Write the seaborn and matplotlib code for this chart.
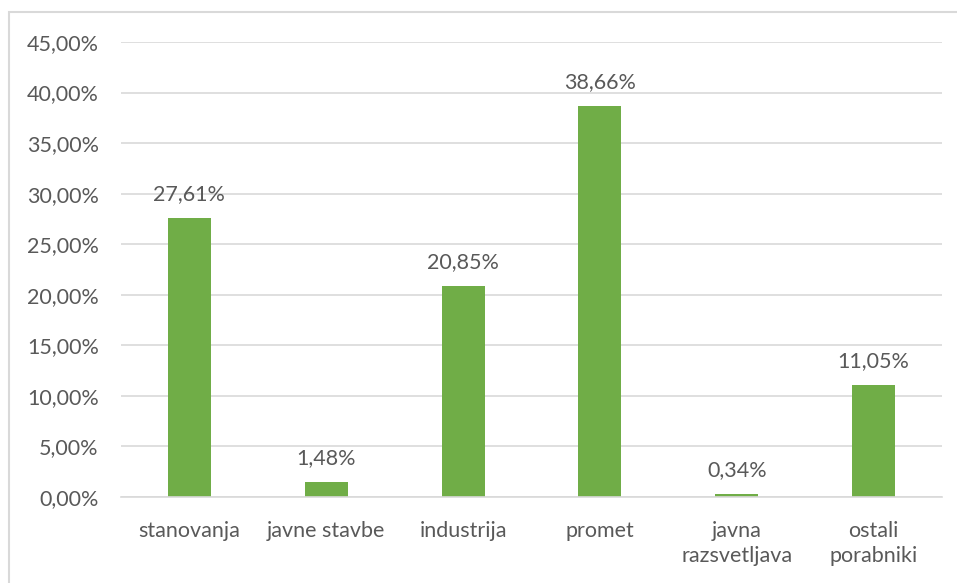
import matplotlib
matplotlib.use("Agg")
import matplotlib.pyplot as plt
import seaborn as sns
import pandas as pd
from matplotlib.patches import Rectangle

categories = ["stanovanja", "javne stavbe", "industrija", "promet", "javna\nrazsvetljava", "ostali\nporabniki"]
values = [27.61, 1.48, 20.85, 38.66, 0.34, 11.05]
yticks = [0, 5, 10, 15, 20, 25, 30, 35, 40, 45]

sns.set_theme(style="white")
plt.rcParams["font.family"] = ["Lato", "DejaVu Sans"]

TXT = "#595959"
FS = 15.5
W, H = 957, 583
fig = plt.figure(figsize=(W / 100, H / 100), dpi=100)
ax = fig.add_axes([121 / W, 1 - 497 / H, (942 - 121) / W, (497 - 42) / H])

df = pd.DataFrame({"cat": categories, "val": values})
sns.barplot(data=df, x="cat", y="val", color="#70AD47", width=0.315, ax=ax,
            saturation=1, edgecolor="none", linewidth=0)

ax.set_ylim(0, 45)
ax.set_yticks(yticks)
ax.set_yticklabels([f"{v:.2f}".replace(".", ",") + "%" for v in yticks])
ax.yaxis.grid(True, color="#D9D9D9", linewidth=1.2)
ax.set_axisbelow(True)
for s in ["top", "right", "left"]:
    ax.spines[s].set_visible(False)
ax.spines["bottom"].set_color("#D9D9D9")
ax.spines["bottom"].set_linewidth(1.2)
ax.tick_params(axis="both", length=0, labelsize=FS, labelcolor=TXT)
ax.tick_params(axis="y", pad=16)
ax.tick_params(axis="x", pad=17)
for lbl in ax.get_xticklabels():
    lbl.set_linespacing(1.35)
ax.set_xlabel("")
ax.set_ylabel("")

for i, v in enumerate(values):
    ax.annotate(f"{v:.2f}".replace(".", ",") + "%", (i, v), xytext=(0, 10),
                textcoords="offset points", ha="center", va="bottom",
                fontsize=FS, color=TXT)

fig.patches.append(Rectangle((9 / W, -0.1), 1.2, 1.1 - 12 / H, transform=fig.transFigure,
                             fill=False, edgecolor="#D9D9D9", linewidth=1.5))

fig.savefig("out.png", dpi=100)
